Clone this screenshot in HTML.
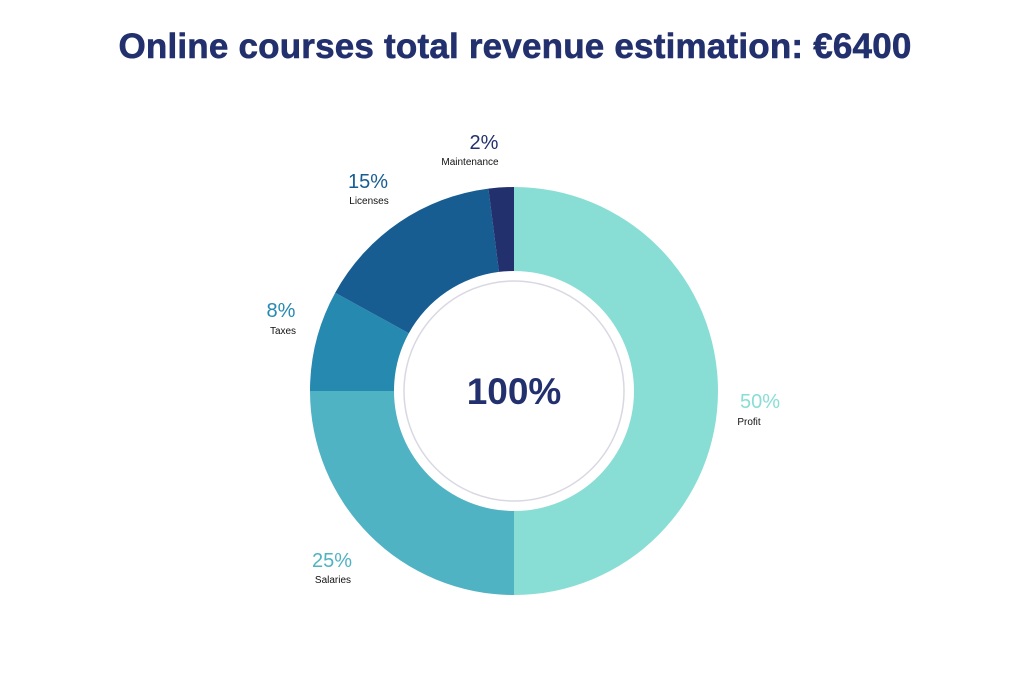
<!DOCTYPE html>
<html><head><meta charset="utf-8"><style>
body{margin:0;background:#fff;width:1023px;height:675px;overflow:hidden;font-family:"Liberation Sans",sans-serif}
</style></head><body>
<svg width="1023" height="675" xmlns="http://www.w3.org/2000/svg">
<text x="515" y="58" text-anchor="middle" font-family="Liberation Sans, sans-serif" font-weight="bold" font-size="35" letter-spacing="0.2" fill="#22306e" stroke="#22306e" stroke-width="0.6">Online courses total revenue estimation: €6400</text>
<g transform="translate(514,391)">
<path d="M0,-204 A204,204 0 0 1 0,204 L0,120 A120,120 0 0 0 0,-120Z" fill="#88ded5"/>
<path d="M0,204 A204,204 0 0 1 -204,0 L-120,0 A120,120 0 0 0 0,120Z" fill="#50b3c3"/>
<path d="M-204,0 A204,204 0 0 1 -178.8,-98.3 L-105.2,-57.8 A120,120 0 0 0 -120,0Z" fill="#2589b0"/>
<path d="M-178.8,-98.3 A204,204 0 0 1 -25.6,-202.4 L-15.0,-119.1 A120,120 0 0 0 -105.2,-57.8Z" fill="#175d92"/>
<path d="M-25.6,-202.4 A204,204 0 0 1 0,-204 L0,-120 A120,120 0 0 0 -15.0,-119.1Z" fill="#22306e"/>
<circle r="110" fill="none" stroke="#d8d8e2" stroke-width="1.5"/>
<text y="13" text-anchor="middle" font-weight="bold" font-size="37" fill="#22306e">100%</text>
</g>
<g font-family="Liberation Sans, sans-serif" text-anchor="middle">
<text x="484" y="149" font-size="20" fill="#22306e">2%</text>
<text x="470" y="165" font-size="10" fill="#111">Maintenance</text>
<text x="368" y="188" font-size="20" fill="#175d92">15%</text>
<text x="369" y="204" font-size="10" fill="#111">Licenses</text>
<text x="281" y="317" font-size="20" fill="#2589b0">8%</text>
<text x="283" y="334" font-size="10" fill="#111">Taxes</text>
<text x="760" y="408" font-size="20" fill="#88ded5">50%</text>
<text x="749" y="425" font-size="10" fill="#111">Profit</text>
<text x="332" y="567" font-size="20" fill="#50b3c3">25%</text>
<text x="333" y="583" font-size="10" fill="#111">Salaries</text>
</g>
</svg>
</body></html>
